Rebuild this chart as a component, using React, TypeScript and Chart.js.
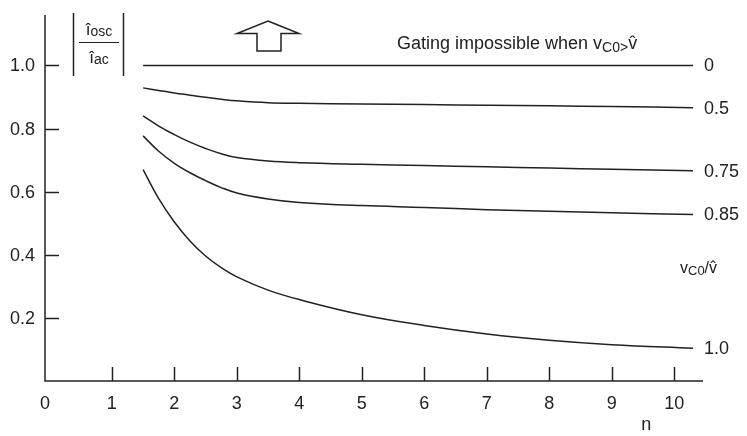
import { useEffect, useRef } from "react";
import { Chart, registerables } from "chart.js";

Chart.register(...registerables);

// Turns ratio n at which each curve is sampled
const nValues = [1.5, 1.75, 2, 2.25, 2.5, 2.75, 3, 3.5, 4, 5, 6, 7, 8, 9, 10.3];

// |î_osc / î_ac| for each v_C0/v̂ ratio
const curveRatio0 = [1.0, 1.0, 1.0, 1.0, 1.0, 1.0, 1.0, 1.0, 1.0, 1.0, 1.0, 1.0, 1.0, 1.0, 1.0];
const curveRatio050 = [0.929, 0.921, 0.913, 0.906, 0.899, 0.893, 0.888, 0.882, 0.88, 0.878, 0.876, 0.874, 0.872, 0.87, 0.866];
const curveRatio075 = [0.84, 0.808, 0.781, 0.757, 0.737, 0.72, 0.708, 0.697, 0.692, 0.687, 0.683, 0.679, 0.675, 0.671, 0.666];
const curveRatio085 = [0.777, 0.728, 0.69, 0.66, 0.635, 0.613, 0.596, 0.577, 0.566, 0.556, 0.55, 0.543, 0.538, 0.533, 0.528];
const curveRatio100 = [0.67, 0.578, 0.504, 0.444, 0.396, 0.359, 0.33, 0.288, 0.258, 0.21, 0.176, 0.149, 0.129, 0.115, 0.104];

const curveLabels = ["0", "0.5", "0.75", "0.85", "1.0"];

const xTicks = [0, 1, 2, 3, 4, 5, 6, 7, 8, 9, 10];
const yTicks = [0.2, 0.4, 0.6, 0.8, 1.0];
const yTickLabels = ["0.2", "0.4", "0.6", "0.8", "1.0"];

const INK = "#222";
const FONT = '"Liberation Sans", Arial, Helvetica, sans-serif';

type Part = { text: string; size: number; dy?: number };

function drawParts(ctx: CanvasRenderingContext2D, parts: Part[], x: number, y: number, align: "left" | "center" = "left") {
  ctx.textAlign = "left";
  ctx.textBaseline = "alphabetic";
  const widths = parts.map((p) => {
    ctx.font = `${p.size}px ${FONT}`;
    return ctx.measureText(p.text).width;
  });
  const total = widths.reduce((a, b) => a + b, 0);
  let cx = align === "center" ? x - total / 2 : x;
  parts.forEach((p, i) => {
    ctx.font = `${p.size}px ${FONT}`;
    ctx.fillText(p.text, cx, y + (p.dy || 0));
    cx += widths[i];
  });
  return total;
}

const annotationPlugin = {
  id: "oscAnnotations",
  afterDraw(chart: Chart) {
    const ctx = chart.ctx;
    const { left, right, top, bottom } = chart.chartArea;
    const xs = chart.scales.x;
    const ys = chart.scales.y;
    ctx.save();
    ctx.strokeStyle = INK;
    ctx.fillStyle = INK;
    ctx.lineWidth = 1.5;

    // axes
    ctx.beginPath();
    ctx.moveTo(left, top);
    ctx.lineTo(left, bottom);
    ctx.lineTo(right, bottom);
    ctx.stroke();

    // inward tick marks
    ctx.beginPath();
    yTicks.forEach((v) => {
      const y = Math.round(ys.getPixelForValue(v)) + 0.5;
      ctx.moveTo(left, y);
      ctx.lineTo(left + 14, y);
    });
    xTicks.forEach((n) => {
      if (n === 0) return;
      const x = Math.round(xs.getPixelForValue(n)) + 0.5;
      ctx.moveTo(x, bottom);
      ctx.lineTo(x, bottom - 14);
    });
    ctx.stroke();

    // tick labels
    ctx.font = `18px ${FONT}`;
    ctx.textBaseline = "middle";
    ctx.textAlign = "right";
    yTicks.forEach((v, i) => {
      ctx.fillText(yTickLabels[i], left - 10, ys.getPixelForValue(v) + 1);
    });
    ctx.textAlign = "center";
    xTicks.forEach((n) => {
      const x = n === 0 ? left : xs.getPixelForValue(n);
      ctx.fillText(String(n), x, bottom + 23);
    });
    ctx.fillText("n", xs.getPixelForValue(9.55), bottom + 44);

    // curve-end labels
    ctx.textAlign = "left";
    chart.data.datasets.forEach((_, i) => {
      const meta = chart.getDatasetMeta(i);
      const last = meta.data[meta.data.length - 1];
      ctx.font = `18px ${FONT}`;
      ctx.textBaseline = "middle";
      ctx.fillText(curveLabels[i], last.x + 11, last.y + 1);
    });

    // v_C0 / v̂ caption for the curve labels
    ctx.fillStyle = INK;
    drawParts(ctx, [
      { text: "v", size: 16 },
      { text: "C0", size: 13, dy: 2 },
      { text: "/v\u0302", size: 16 },
    ], 680, 273);

    // |î_osc / î_ac| axis caption
    ctx.beginPath();
    ctx.moveTo(73.5, 13);
    ctx.lineTo(73.5, 76);
    ctx.moveTo(123.5, 13);
    ctx.lineTo(123.5, 76);
    ctx.stroke();
    ctx.beginPath();
    ctx.lineWidth = 1;
    ctx.moveTo(79, 42.5);
    ctx.lineTo(119, 42.5);
    ctx.stroke();
    drawParts(ctx, [
      { text: "\u00ee", size: 17 },
      { text: "osc", size: 14, dy: 1 },
    ], 99, 35, "center");
    drawParts(ctx, [
      { text: "\u00ee", size: 17 },
      { text: "ac", size: 14, dy: 1 },
    ], 99, 63, "center");

    // hollow upward arrow
    ctx.lineWidth = 1.5;
    ctx.beginPath();
    ctx.moveTo(268, 21);
    ctx.lineTo(299, 33.5);
    ctx.lineTo(281, 33.5);
    ctx.lineTo(281, 51);
    ctx.lineTo(257, 51);
    ctx.lineTo(257, 33.5);
    ctx.lineTo(237, 33.5);
    ctx.closePath();
    ctx.stroke();

    // gating note
    drawParts(ctx, [
      { text: "Gating impossible when ", size: 18 },
      { text: "v", size: 18 },
      { text: "C0>", size: 14, dy: 3 },
      { text: "v\u0302", size: 18 },
    ], 397, 49);

    ctx.restore();
  },
};

export default function App() {
  const canvasRef = useRef<HTMLCanvasElement | null>(null);

  useEffect(() => {
    const canvas = canvasRef.current;
    if (!canvas) return;
    const series = [curveRatio0, curveRatio050, curveRatio075, curveRatio085, curveRatio100];
    const chart = new Chart(canvas, {
      type: "line",
      data: {
        datasets: series.map((vals, i) => ({
          label: curveLabels[i],
          data: nValues.map((n, j) => ({ x: n, y: vals[j] })),
          borderColor: INK,
          borderWidth: 1.5,
          pointRadius: 0,
          fill: false,
          tension: 0.4,
        })),
      },
      options: {
        animation: false,
        responsive: false,
        devicePixelRatio: 1,
        layout: { padding: { left: 45, top: 15, right: 44, bottom: 55 } },
        scales: {
          x: { type: "linear", min: -0.07, max: 10.46, display: false },
          y: { type: "linear", min: 0, max: 1.16, display: false },
        },
        plugins: {
          legend: { display: false },
          tooltip: { enabled: false },
        },
      },
      plugins: [annotationPlugin],
    });
    return () => chart.destroy();
  }, []);

  return (
    <div style={{ position: "fixed", left: 0, top: 0, width: 747, height: 436, background: "#fff" }}>
      <canvas ref={canvasRef} width={747} height={436} />
    </div>
  );
}
